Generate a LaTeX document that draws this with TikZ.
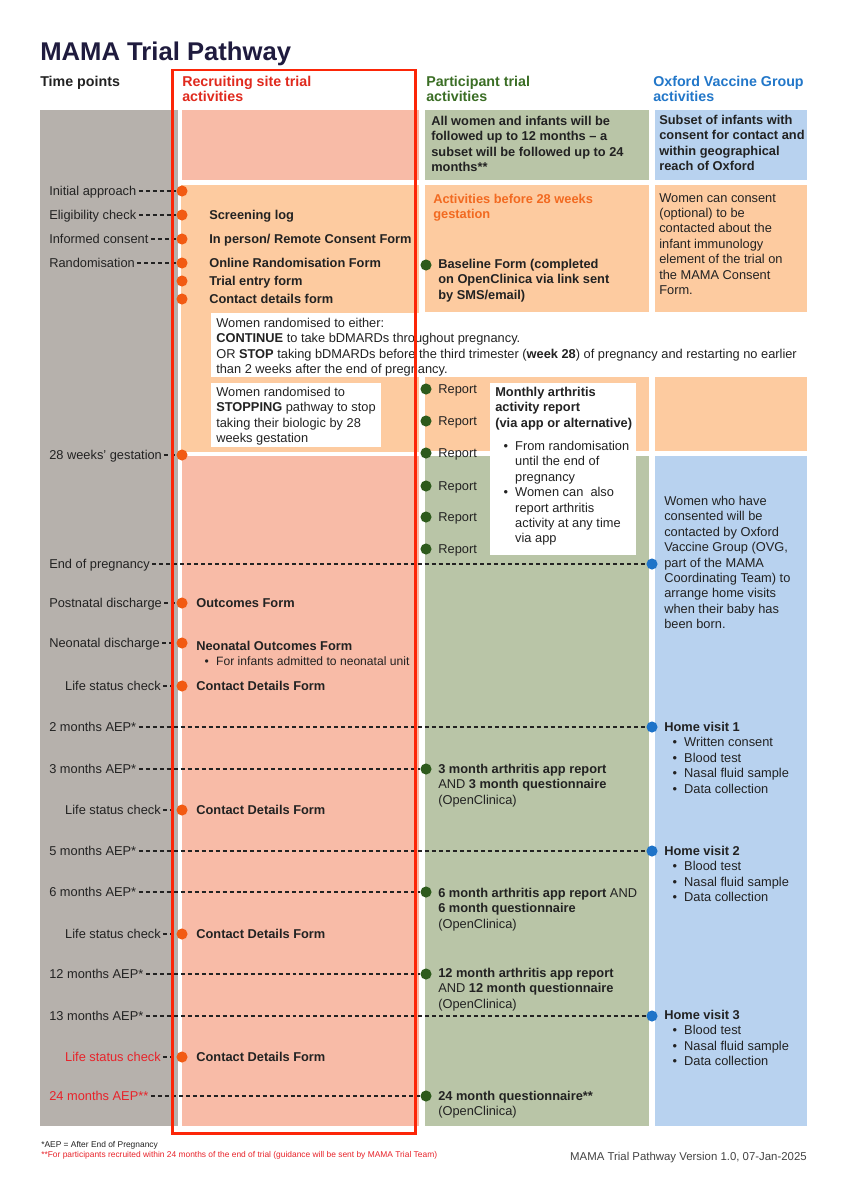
\documentclass[tikz,border=0pt]{standalone}
\usepackage{fontspec}
\setmainfont{Liberation Sans}
\usepackage{tikz}
\usetikzlibrary{positioning,backgrounds}
\definecolor{ColGrey}{RGB}{182,177,172}
\definecolor{ColSalmon}{RGB}{248,187,167}
\definecolor{ColPeach}{RGB}{253,203,160}
\definecolor{ColSage}{RGB}{185,197,167}
\definecolor{ColSky}{RGB}{184,210,239}
\definecolor{DotOrange}{RGB}{242,90,18}
\definecolor{DotGreen}{RGB}{45,90,28}
\definecolor{DotBlue}{RGB}{30,115,200}
\definecolor{FrameRed}{RGB}{252,38,8}
\definecolor{TitleInk}{RGB}{31,27,62}
\definecolor{HeadRed}{RGB}{224,42,30}
\definecolor{HeadGreen}{RGB}{59,110,37}
\definecolor{HeadBlue}{RGB}{34,119,201}
\definecolor{ActOrange}{RGB}{242,106,33}
\definecolor{NoteRed}{RGB}{232,35,42}
\definecolor{Ink}{RGB}{34,34,34}
\newcommand{\blt}{\hspace*{5.8pt}\makebox[8.2pt][l]{\textbullet}}
\newcommand{\bcont}{\hspace*{14pt}}
\tikzset{
  txt/.style={anchor=north west,inner sep=0pt,align=left,text=Ink},
  lbl/.style={anchor=west,inner sep=0pt,text height=6.44pt,text depth=0pt,text=Ink},
  head/.style={txt,font=\fontsize{10}{10.5}\selectfont\bfseries},
  panel/.style={fill=white,draw=none},
  odot/.style={circle,fill=DotOrange,inner sep=0pt,minimum size=7.8pt},
  gdot/.style={odot,fill=DotGreen},
  bdot/.style={odot,fill=DotBlue},
  dsh/.style={draw=Ink,line width=0.9pt,dash pattern=on 2.8pt off 2.1pt,shorten <=1.6pt},
}
\begin{document}
\begin{tikzpicture}[x=0.702pt,y=-0.702pt,font=\fontsize{9}{10.8}\selectfont]
\useasboundingbox (0,0) rectangle (848,1200);
\begin{scope}[on background layer]
\fill[white] (0,0) rectangle (848,1200);
% column backgrounds
\fill[ColGrey] (40,110) rectangle (178,1126);
\fill[ColSalmon] (182,110) rectangle (419,180);
\fill[ColPeach] (181,185) rectangle (419,452);
\fill[ColSalmon] (182,456) rectangle (419,1126);
\fill[ColSage] (425,110) rectangle (649,180);
\fill[ColPeach] (425,185) rectangle (649,312);
\fill[ColPeach] (425,377) rectangle (649,451);
\fill[ColSage] (425,456) rectangle (649,1126);
\fill[ColSky] (655,110) rectangle (807,180);
\fill[ColPeach] (655,185) rectangle (807,312);
\fill[ColPeach] (655,377) rectangle (807,451);
\fill[ColSky] (655,456) rectangle (807,1126);
% white panels
\fill[panel] (211,313) rectangle (419,377);
\fill[panel] (211,383) rectangle (381,447);
\fill[panel] (490,383) rectangle (636,555);
\end{scope}

% headings
\node[txt,font=\fontsize{18}{20}\selectfont\bfseries,text=TitleInk] (title) at (40,41.6) {MAMA Trial Pathway};
\node[head] (h-time) at (40,75.8) {Time points};
\node[head,text=HeadRed] (h-site) at (182,75.8) {Recruiting site trial\\activities};
\node[head,text=HeadGreen] (h-part) at (426,75.8) {Participant trial\\activities};
\node[head,text=HeadBlue] (h-ovg) at (653,75.8) {Oxford Vaccine Group\\activities};

% time points
\node[lbl] (t-init) at (49,191) {Initial approach};
\node[lbl] (t-elig) at (49,215) {Eligibility check};
\node[lbl] (t-cons) at (49,239) {Informed consent};
\node[lbl] (t-rand) at (49,263) {Randomisation};
\node[lbl] (t-w28) at (49,455) {28 weeks’ gestation};
\node[lbl] (t-eop) at (49,564) {End of pregnancy};
\node[lbl] (t-pnd) at (49,603) {Postnatal discharge};
\node[lbl] (t-nnd) at (49,643) {Neonatal discharge};
\node[lbl,anchor=east] (t-ls1) at (161,686) {Life status check};
\node[lbl] (t-m2) at (49,727) {2 months AEP*};
\node[lbl] (t-m3) at (49,769) {3 months AEP*};
\node[lbl,anchor=east] (t-ls2) at (161,810) {Life status check};
\node[lbl] (t-m5) at (49,851) {5 months AEP*};
\node[lbl] (t-m6) at (49,892) {6 months AEP*};
\node[lbl,anchor=east] (t-ls3) at (161,934) {Life status check};
\node[lbl] (t-m12) at (49,974) {12 months AEP*};
\node[lbl] (t-m13) at (49,1016) {13 months AEP*};
\node[lbl,anchor=east,text=NoteRed] (t-ls4) at (161,1057) {Life status check};
\node[lbl,text=NoteRed] (t-m24) at (49,1096) {24 months AEP**};

% dots
\node[odot] (d-init) at (182,191) {};
\node[odot] (d-elig) at (182,215) {};
\node[odot] (d-cons) at (182,239) {};
\node[odot] (d-rand) at (182,263) {};
\node[odot] (d-entry) at (182,281) {};
\node[odot] (d-contact) at (182,299) {};
\node[odot] (d-w28) at (182,455) {};
\node[odot] (d-pnd) at (182,603) {};
\node[odot] (d-nnd) at (182,643) {};
\node[odot] (d-ls1) at (182,686) {};
\node[odot] (d-ls2) at (182,810) {};
\node[odot] (d-ls3) at (182,934) {};
\node[odot] (d-ls4) at (182,1057) {};
\node[gdot] (d-base) at (426,265) {};
\node[gdot] (d-m3) at (426,769) {};
\node[gdot] (d-m6) at (426,892) {};
\node[gdot] (d-m12) at (426,974) {};
\node[gdot] (d-m24) at (426,1096) {};
\node[bdot] (d-eop) at (652,564) {};
\node[bdot] (d-m2) at (652,727) {};
\node[bdot] (d-m5) at (652,851) {};
\node[bdot] (d-m13) at (652,1016) {};
\foreach \k/\y in {1/389,2/421,3/453,4/486,5/517,6/549}{
  \node[gdot] (r\k) at (426,\y) {};
  \node[lbl,right=4.4pt of r\k] (rt\k) {Report};
}
\begin{scope}[on background layer]
\foreach \k in {init,elig,cons,rand,w28,eop,pnd,nnd,ls1,m2,m3,ls2,m5,m6,ls3,m12,m13,ls4,m24}
  \draw[dsh] (t-\k) -- (d-\k);
\end{scope}

% recruiting site
\node[lbl] (f-screen) at (209,215) {\textbf{Screening log}};
\node[lbl] (f-consent) at (209,239) {\textbf{In person/ Remote Consent Form}};
\node[lbl] (f-rand) at (209,263) {\textbf{Online Randomisation Form}};
\node[lbl] (f-entry) at (209,281) {\textbf{Trial entry form}};
\node[lbl] (f-contact) at (209,299) {\textbf{Contact details form}};
\node[txt] (n-either) at (216,318) {Women randomised to either:\\\textbf{CONTINUE} to take bDMARDs throughout pregnancy.\\OR \textbf{STOP} taking bDMARDs before the third trimester (\textbf{week 28}) of pregnancy and restarting no earlier\\than 2 weeks after the end of pregnancy.};
\node[txt] (n-stop) at (216,387) {Women randomised to\\\textbf{STOPPING} pathway to stop\\taking their biologic by 28\\weeks gestation};
\node[lbl,right=5.8pt of d-pnd] (f-pnd) {\textbf{Outcomes Form}};
\node[lbl] (f-nnd) at (196,646) {\textbf{Neonatal Outcomes Form}};
\node[txt,font=\fontsize{8.5}{10}\selectfont] (f-nnd-b) at (196,656.5) {\blt For infants admitted to neonatal unit};
\foreach \k in {ls1,ls2,ls3,ls4}
  \node[lbl,right=5.8pt of d-\k] (f-\k) {\textbf{Contact Details Form}};

% participant
\node[txt,font=\fontsize{9}{10.8}\selectfont\bfseries] (p-head) at (431,116) {All women and infants will be\\followed up to 12 months – a\\subset will be followed up to 24\\months**};
\node[txt,font=\fontsize{9}{10.8}\selectfont\bfseries,text=ActOrange] (p-act) at (433,194) {Activities before 28 weeks\\gestation};
\node[txt,font=\fontsize{9}{10.8}\selectfont\bfseries] (p-base) at (438,259) {Baseline Form (completed\\on OpenClinica via link sent\\by SMS/email)};
\node[txt,font=\fontsize{9}{10.8}\selectfont\bfseries] (p-month) at (495,387) {Monthly arthritis\\activity report\\(via app or alternative)};
\node[txt] (p-month-b) at (495,441) {\blt From randomisation\\\bcont until the end of\\\bcont pregnancy\\\blt Women can~ also\\\bcont report arthritis\\\bcont activity at any time\\\bcont via app};
\node[txt] (p-m3) at (438,764) {\textbf{3 month arthritis app report}\\AND \textbf{3 month questionnaire}\\(OpenClinica)};
\node[txt] (p-m6) at (438,888) {\textbf{6 month arthritis app report} AND\\\textbf{6 month questionnaire}\\(OpenClinica)};
\node[txt] (p-m12) at (438,968) {\textbf{12 month arthritis app report}\\AND \textbf{12 month questionnaire}\\(OpenClinica)};
\node[txt] (p-m24) at (438,1091) {\textbf{24 month questionnaire**}\\(OpenClinica)};

% oxford vaccine group
\node[txt,font=\fontsize{9}{10.8}\selectfont\bfseries] (o-head) at (659,115) {Subset of infants with\\consent for contact and\\within geographical\\reach of Oxford};
\node[txt] (o-consent) at (659,193) {Women can consent\\(optional) to be\\contacted about the\\infant immunology\\element of the trial on\\the MAMA Consent\\Form.};
\node[txt] (o-contact) at (664,496) {Women who have\\consented will be\\contacted by Oxford\\Vaccine Group (OVG,\\part of the MAMA\\Coordinating Team) to\\arrange home visits\\when their baby has\\been born.};
\node[txt] (o-hv1) at (664,722) {\textbf{Home visit 1}\\\blt Written consent\\\blt Blood test\\\blt Nasal fluid sample\\\blt Data collection};
\node[txt] (o-hv2) at (664,846) {\textbf{Home visit 2}\\\blt Blood test\\\blt Nasal fluid sample\\\blt Data collection};
\node[txt] (o-hv3) at (664,1010) {\textbf{Home visit 3}\\\blt Blood test\\\blt Nasal fluid sample\\\blt Data collection};

% footer
\node[txt,font=\fontsize{5.9}{7}\selectfont] (fn1) at (41,1141) {*AEP = After End of Pregnancy};
\node[txt,font=\fontsize{5.9}{7}\selectfont,text=NoteRed] (fn2) at (41,1151) {**For participants recruited within 24 months of the end of trial (guidance will be sent by MAMA Trial Team)};
\node[txt,anchor=north east,font=\fontsize{8}{9}\selectfont,text=Ink!85] (ver) at (807,1151.8) {MAMA Trial Pathway Version 1.0, 07-Jan-2025};

% recruiting site frame
\draw[FrameRed,line width=2.1pt] (172.5,70) rectangle (415,1133);
\end{tikzpicture}
\end{document}
